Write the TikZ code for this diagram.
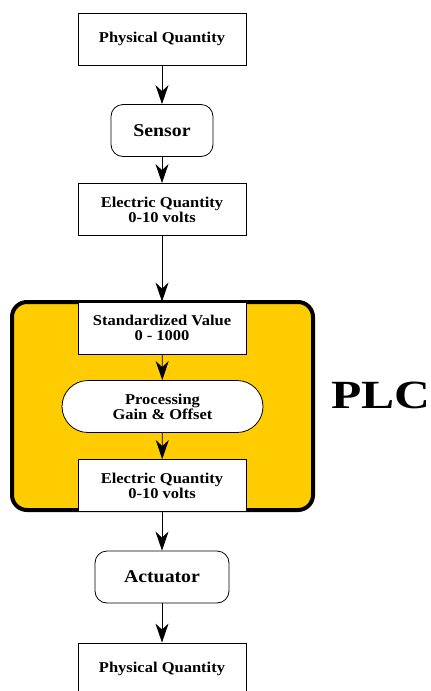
\documentclass[tikz,border=0pt]{standalone}
\usepackage{fontspec}
\setmainfont{Liberation Serif}[FakeStretch=1.1]
\newfontfamily\plcfont{Liberation Serif}[FakeStretch=1.24]
\usetikzlibrary{arrows.meta}
\definecolor{plcyellow}{RGB}{255,204,0}

\begin{document}
\begin{tikzpicture}[x=1pt,y=-1pt,
  quantity/.style={draw,fill=white,line width=0.8pt,minimum width=168pt,
    minimum height=52pt,inner sep=0pt,align=center,
    font=\bfseries\fontsize{15}{15}\selectfont},
  device/.style={draw,fill=white,line width=0.8pt,rounded corners=12pt,
    minimum height=52pt,inner sep=0pt,
    font=\bfseries\fontsize{18}{18}\selectfont},
  flow/.style={-{Stealth[length=19pt,width=13pt,inset=6pt]},line width=0.8pt}]
  \useasboundingbox (0,0) rectangle (431,691);
  % PLC block
  \path[draw,line width=4pt,fill=plcyellow,rounded corners=15pt]
    (12,302) rectangle (313,510);
  \node[font=\plcfont\bfseries\fontsize{40}{40}\selectfont] (plc) at (381,395) {PLC};
  % chain of stages
  \node[quantity] (phys1) at (162,39) {Physical Quantity};
  \node[device,minimum width=102pt] (sensor) at (162,130.5) {Sensor};
  \node[quantity] (elec1) at (162,209.5) {Electric Quantity\\0-10 volts};
  \node[quantity] (std) at (162,328) {Standardized Value\\0 - 1000};
  \node[device,minimum width=201pt,rounded corners=26pt,
    font=\bfseries\fontsize{15}{15}\selectfont,align=center]
    (proc) at (162.5,406.5) {Processing\\Gain \& Offset};
  \node[quantity] (elec2) at (162,485.5) {Electric Quantity\\0-10 volts};
  \node[device,minimum width=134pt] (act) at (162,577) {Actuator};
  \node[quantity] (phys2) at (162,669) {Physical Quantity};
  % connectors
  \draw[flow] (phys1) -- (sensor);
  \draw[flow] (sensor) -- (elec1);
  \draw[flow] (elec1) -- (std);
  \draw[flow] (std) -- (proc);
  \draw[flow] (proc) -- (elec2);
  \draw[flow] (elec2) -- (act);
  \draw[flow] (act) -- (phys2);
\end{tikzpicture}
\end{document}
